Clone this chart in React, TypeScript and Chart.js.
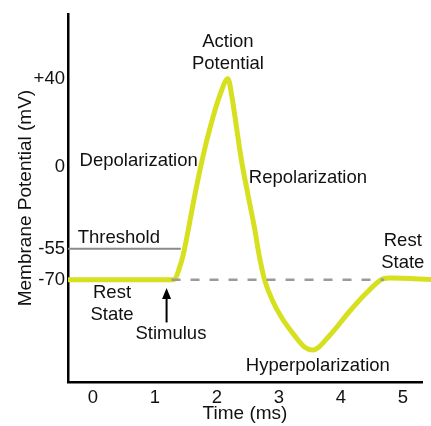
import React, { useEffect, useRef } from "react";
import { Chart, registerables } from "chart.js";

Chart.register(...registerables);

// Time (ms) and membrane potential (schematic mV)
const timeMs = [-0.4, 1.3, 1.43, 1.48, 1.65, 1.76, 1.89, 2.05, 2.18, 2.24, 2.32, 2.4, 2.5, 2.61, 2.68, 2.77, 2.9, 3.05, 3.23, 3.42, 3.55, 3.82, 4.15, 4.42, 4.68, 4.8, 5.5];
const potential = [-70, -70, -60, -53, -23, -5, 13, 31, 40, 31, 13, -5, -23, -42, -56, -70, -81.5, -91, -99.5, -107, -108.5, -100.5, -87, -77, -69.5, -69, -70];

// threshold and resting reference lines
const thresholdX = [-0.4, 1.42];
const thresholdLevel = -53;
const restRefX = [1.27, 4.7];
const restLevel = -70;

// axes
const xTickValues = [0, 1, 2, 3, 4, 5];
const yTickValues = [40, -8, -53, -70];
const yTickLabels = ["+40", "0", "-55", "-70"];

// annotations (text, time, potential)
const noteTexts = ["Action", "Potential", "Depolarization", "Repolarization", "Threshold", "Rest", "State", "Stimulus", "Hyperpolarization", "Rest", "State"];
const noteX = [2.18, 2.18, 0.74, 3.47, 0.42, 0.31, 0.31, 1.26, 3.63, 5.0, 5.0];
const noteY = [60.2, 48.2, -5.2, -14.5, -47.1, -77.1, -89.1, -99.4, -117.4, -48.8, -60.8];
const stimulusX = 1.19;
const stimulusFrom = -93.4;
const stimulusTo = -74.6;

const FONT = '"Liberation Sans", Arial, sans-serif';

const notesPlugin = {
  id: "apNotes",
  afterDatasetsDraw(chart: any) {
    const { ctx } = chart;
    const xs = chart.scales.x;
    const ys = chart.scales.y;
    ctx.save();
    ctx.font = `18.5px ${FONT}`;
    ctx.fillStyle = "#111";
    ctx.textAlign = "center";
    ctx.textBaseline = "middle";
    noteTexts.forEach((t, i) => {
      ctx.fillText(t, xs.getPixelForValue(noteX[i]), ys.getPixelForValue(noteY[i]));
    });
    // stimulus arrow
    const ax = xs.getPixelForValue(stimulusX);
    const y0 = ys.getPixelForValue(stimulusFrom);
    const y1 = ys.getPixelForValue(stimulusTo);
    ctx.strokeStyle = "#000";
    ctx.fillStyle = "#000";
    ctx.lineWidth = 2;
    ctx.beginPath();
    ctx.moveTo(ax, y0);
    ctx.lineTo(ax, y1 + 8);
    ctx.stroke();
    ctx.beginPath();
    ctx.moveTo(ax, y1);
    ctx.lineTo(ax - 4.5, y1 + 11);
    ctx.lineTo(ax + 4.5, y1 + 11);
    ctx.closePath();
    ctx.fill();
    ctx.restore();
  },
};

export default function App() {
  const ref = useRef<HTMLCanvasElement | null>(null);

  useEffect(() => {
    if (!ref.current) return;
    const chart = new Chart(ref.current, {
      type: "line",
      data: {
        datasets: [
          {
            label: "Threshold",
            data: thresholdX.map((x) => ({ x, y: thresholdLevel })),
            borderColor: "#8a8a8a",
            borderWidth: 2,
            pointRadius: 0,
          },
          {
            label: "Resting level",
            data: restRefX.map((x) => ({ x, y: restLevel })),
            borderColor: "#9a9a9a",
            borderWidth: 2.5,
            borderDash: [9, 10],
            pointRadius: 0,
          },
          {
            label: "Membrane potential",
            data: timeMs.map((x, i) => ({ x, y: potential[i] })),
            borderColor: "#d6e01f",
            borderWidth: 5,
            pointRadius: 0,
            cubicInterpolationMode: "monotone",
            borderJoinStyle: "round",
            clip: false as any,
          },
        ],
      },
      options: {
        animation: false,
        responsive: false,
        layout: { padding: { top: 12, right: 9, left: 0, bottom: 0 } },
        plugins: { legend: { display: false }, tooltip: { enabled: false } },
        scales: {
          x: {
            type: "linear",
            min: -0.4,
            max: 5.31,
            grid: { display: false, drawTicks: false },
            border: { display: true, color: "#000", width: 2.5 },
            afterBuildTicks: (s: any) => {
              s.ticks = xTickValues.map((v) => ({ value: v }));
            },
            afterFit: (s: any) => {
              s.height = 44;
            },
            ticks: {
              padding: 5,
              color: "#111",
              font: { size: 18.5, family: FONT },
              callback: (v: any) => String(v),
            },
            title: {
              display: true,
              text: "Time (ms)",
              color: "#111",
              font: { size: 19, family: FONT },
              padding: { top: 0, bottom: 1 },
            },
          },
          y: {
            type: "linear",
            min: -126,
            max: 75.4,
            grid: { display: false, drawTicks: false },
            border: { display: true, color: "#000", width: 2.5 },
            afterBuildTicks: (s: any) => {
              s.ticks = yTickValues.map((v) => ({ value: v }));
            },
            afterFit: (s: any) => {
              s.width = 68;
            },
            ticks: {
              padding: 3,
              color: "#111",
              font: { size: 18.5, family: FONT },
              callback: (v: any) => {
                const i = yTickValues.indexOf(Number(v));
                return i >= 0 ? yTickLabels[i] : "";
              },
            },
            title: {
              display: true,
              text: "Membrane Potential (mV)",
              color: "#111",
              font: { size: 19, family: FONT },
              padding: { top: 14, bottom: 0 },
            },
          },
        },
      },
      plugins: [notesPlugin],
    });
    return () => chart.destroy();
  }, []);

  return (
    <div style={{ position: "absolute", left: 0, top: 0, width: 431, height: 426, background: "#fff" }}>
      <canvas ref={ref} width={431} height={426} style={{ display: "block" }} />
    </div>
  );
}
